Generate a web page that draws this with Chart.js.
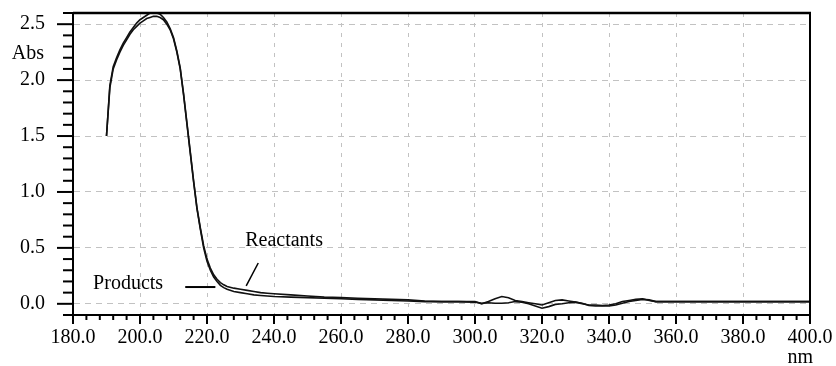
<!DOCTYPE html>
<html>
<head>
<meta charset="utf-8">
<script src="https://cdn.jsdelivr.net/npm/chart.js@4.4.0/dist/chart.umd.min.js"></script>
<style>
html,body{margin:0;padding:0;background:#fff;}
#wrap{width:836px;height:366px;position:relative;}
</style>
</head>
<body>
<div id="wrap"><canvas id="c" width="836" height="366"></canvas></div>
<script>
// Wavelength (nm)
const wavelengths = [190,191,192,193,194,195,196,197,198,199,200,201,202,203,204,205,206,207,208,209,210,211,212,213,214,215,216,217,218,219,220,221,222,223,224,225,226,228,230,232,234,236,238,240,245,250,255,260,265,270,275,280,285,290,295,300,302,304,306,308,310,312,314,316,318,320,322,324,326,328,330,332,334,336,338,340,342,344,346,348,350,352,354,356,360,370,380,390,400];
// Absorbance
const reactants = [1.50,1.95,2.12,2.20,2.27,2.33,2.38,2.43,2.47,2.51,2.54,2.56,2.58,2.60,2.60,2.60,2.59,2.56,2.52,2.46,2.38,2.26,2.11,1.88,1.62,1.36,1.10,0.86,0.68,0.52,0.40,0.32,0.26,0.22,0.19,0.17,0.155,0.14,0.13,0.12,0.11,0.10,0.095,0.09,0.08,0.07,0.06,0.055,0.05,0.045,0.04,0.035,0.025,0.02,0.02,0.02,0.0,0.02,0.045,0.065,0.055,0.03,0.02,0.01,0.0,-0.01,0.01,0.03,0.035,0.025,0.015,0.0,-0.01,-0.01,-0.015,-0.01,0.0,0.02,0.03,0.04,0.045,0.03,0.02,0.02,0.02,0.02,0.02,0.02,0.02];
const products = [1.50,1.93,2.10,2.18,2.25,2.31,2.36,2.41,2.45,2.48,2.51,2.53,2.55,2.56,2.57,2.57,2.56,2.54,2.50,2.45,2.37,2.25,2.10,1.87,1.61,1.35,1.09,0.85,0.67,0.50,0.38,0.30,0.24,0.20,0.165,0.145,0.13,0.11,0.10,0.09,0.08,0.075,0.07,0.065,0.06,0.055,0.05,0.045,0.04,0.035,0.03,0.025,0.02,0.02,0.02,0.015,0.005,0.01,0.005,0.005,0.01,0.02,0.015,0.0,-0.02,-0.04,-0.025,-0.005,0.0,0.01,0.015,0.005,-0.015,-0.02,-0.02,-0.02,-0.01,0.005,0.02,0.03,0.04,0.035,0.02,0.02,0.02,0.02,0.02,0.02,0.02];
// Axis ticks
const xMajorTicks = [180,200,220,240,260,280,300,320,340,360,380,400];
const yMajorTicks = [0.0,0.5,1.0,1.5,2.0,2.5];
const xTitle = "nm";
const yTitle = "Abs";

const FONT = {family: "'Liberation Serif','Times New Roman',serif", size: 20};
const GRID = '#c2c2c2';
const isMajorX = v => xMajorTicks.some(t => Math.abs(t - v) < 1e-6);
const isMajorY = v => yMajorTicks.some(t => Math.abs(t - v) < 1e-6);

const toPts = arr => wavelengths.map((w, i) => ({x: w, y: arr[i]}));
const noPad = s => { s.paddingTop = 0; s.paddingBottom = 0; s.paddingLeft = 0; s.paddingRight = 0; };

const frame = {
  id: 'frame',
  afterDraw(chart) {
    const ctx = chart.ctx, a = chart.chartArea;
    const xs = chart.scales.x, ys = chart.scales.y;
    ctx.save();
    ctx.strokeStyle = '#000';
    // top & right border
    ctx.lineWidth = 2.5;
    ctx.beginPath(); ctx.moveTo(a.left, a.top); ctx.lineTo(a.right + 1, a.top); ctx.stroke();
    ctx.lineWidth = 2;
    ctx.beginPath(); ctx.moveTo(a.right, a.top); ctx.lineTo(a.right, a.bottom); ctx.stroke();
    // tick marks
    ctx.lineWidth = 2;
    xs.ticks.forEach(t => {
      const px = xs.getPixelForValue(t.value);
      const len = isMajorX(t.value) ? 9 : 5;
      ctx.beginPath(); ctx.moveTo(px, a.bottom); ctx.lineTo(px, a.bottom + len); ctx.stroke();
    });
    ys.ticks.forEach(t => {
      const py = ys.getPixelForValue(t.value);
      const len = isMajorY(t.value) ? 16 : 10;
      ctx.beginPath(); ctx.moveTo(a.left, py); ctx.lineTo(a.left - len, py); ctx.stroke();
    });
    // axis titles
    ctx.fillStyle = '#000';
    ctx.font = FONT.size + 'px ' + FONT.family;
    ctx.textBaseline = 'middle';
    ctx.textAlign = 'right';
    ctx.fillText(yTitle, a.left - 29, ys.getPixelForValue(2.24));
    ctx.fillText(xTitle, a.right + 3, a.bottom + 43);
    // annotations
    ctx.textAlign = 'left';
    ctx.fillText('Reactants', xs.getPixelForValue(231.4), ys.getPixelForValue(0.56));
    ctx.fillText('Products', xs.getPixelForValue(186), ys.getPixelForValue(0.18));
    ctx.lineWidth = 1.5;
    ctx.beginPath();
    ctx.moveTo(xs.getPixelForValue(235.3), ys.getPixelForValue(0.365));
    ctx.lineTo(xs.getPixelForValue(231.7), ys.getPixelForValue(0.16));
    ctx.stroke();
    ctx.lineWidth = 2;
    ctx.beginPath();
    ctx.moveTo(xs.getPixelForValue(213.5), ys.getPixelForValue(0.15));
    ctx.lineTo(xs.getPixelForValue(222.5), ys.getPixelForValue(0.15));
    ctx.stroke();
    ctx.restore();
  }
};

new Chart(document.getElementById('c'), {
  type: 'line',
  data: {
    datasets: [
      {label: 'Reactants', data: toPts(reactants), borderColor: '#111', borderWidth: 1.6, pointRadius: 0, tension: 0, fill: false},
      {label: 'Products', data: toPts(products), borderColor: '#111', borderWidth: 1.6, pointRadius: 0, tension: 0, fill: false}
    ]
  },
  options: {
    responsive: false,
    animation: false,
    devicePixelRatio: 1,
    layout: {padding: {top: 13, right: 26, left: 0, bottom: 0}},
    plugins: {legend: {display: false}, tooltip: {enabled: false}},
    scales: {
      x: {
        type: 'linear', min: 180, max: 400,
        afterFit(s) { s.height = 51; noPad(s); },
        ticks: {
          stepSize: 4, autoSkip: false, maxRotation: 0, padding: 11,
          color: '#000', font: FONT,
          callback: v => isMajorX(v) ? v.toFixed(1) : ''
        },
        grid: {
          drawTicks: false, lineWidth: 1,
          color: c => (c.tick && isMajorX(c.tick.value) && c.tick.value > 180 && c.tick.value < 400) ? GRID : 'rgba(0,0,0,0)'
        },
        border: {display: true, color: '#000', width: 2, dash: [4, 6]}
      },
      y: {
        type: 'linear', min: -0.1, max: 2.6,
        afterFit(s) { s.width = 73; noPad(s); },
        ticks: {
          stepSize: 0.1, autoSkip: false, padding: 28,
          color: '#000', font: FONT,
          callback: v => isMajorY(v) ? v.toFixed(1) : ''
        },
        grid: {
          drawTicks: false, lineWidth: 1,
          color: c => (c.tick && isMajorY(c.tick.value)) ? GRID : 'rgba(0,0,0,0)'
        },
        border: {display: true, color: '#000', width: 2, dash: [6, 5]}
      }
    }
  },
  plugins: [frame]
});
</script>
</body>
</html>
